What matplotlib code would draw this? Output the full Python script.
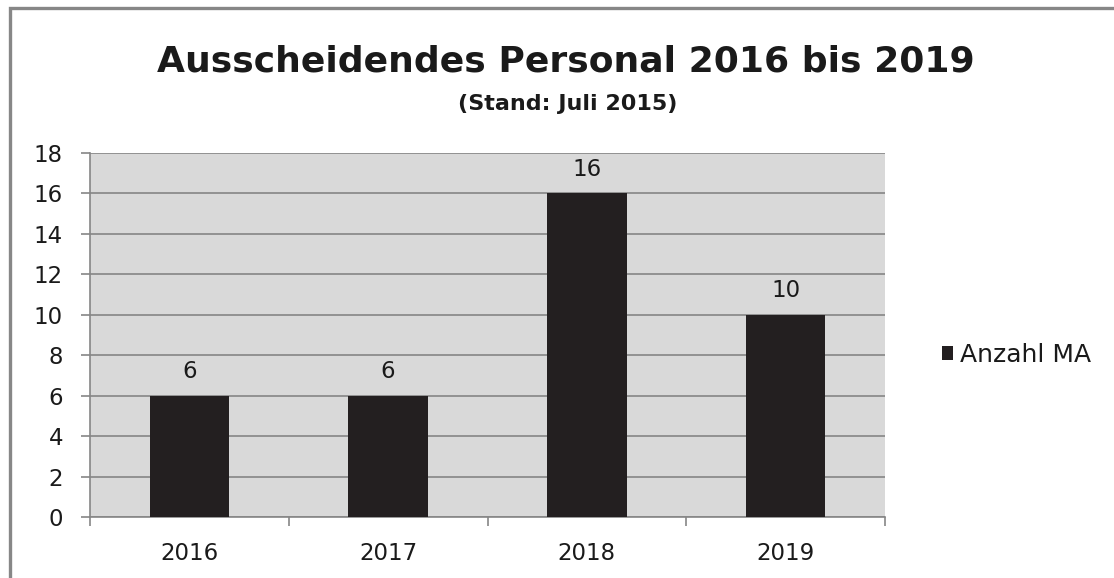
import matplotlib

matplotlib.use("Agg")
import matplotlib.pyplot as plt
from matplotlib.patches import Rectangle

years = ["2016", "2017", "2018", "2019"]
anzahl_ma = [6, 6, 16, 10]
y_ticks = [0, 2, 4, 6, 8, 10, 12, 14, 16, 18]

title = "Ausscheidendes Personal 2016 bis 2019"
subtitle = "(Stand: Juli 2015)"
series_name = "Anzahl MA"

BAR_COLOR = "#231f20"
PLOT_BG = "#d9d9d9"
GRID_COLOR = "#868686"
TEXT_COLOR = "#1a1a1a"
LABEL_SIZE = 16.5

plt.rcParams["font.family"] = ["DejaVu Sans"]

fig = plt.figure(figsize=(11.14, 5.78), dpi=100)
W, H = 1114, 578

# outer chart border (only top and left edges visible in the crop)
fig.add_artist(Rectangle((10 / W, -0.1), 1.2, 1 - 8 / H + 0.1, transform=fig.transFigure,
                         fill=False, edgecolor="#878787", linewidth=2.4))

ax = fig.add_axes([90 / W, 1 - 517 / H, (885 - 90) / W, (517 - 153) / H])
ax.set_facecolor(PLOT_BG)

x = list(range(len(years)))
bars = ax.bar(x, anzahl_ma, width=0.4, color=BAR_COLOR, label=series_name, zorder=3)
for rect, v in zip(bars, anzahl_ma):
    ax.annotate(str(v), (rect.get_x() + rect.get_width() / 2, v), xytext=(0, 9),
                textcoords="offset points", ha="center", va="bottom",
                fontsize=LABEL_SIZE, color=TEXT_COLOR)

ax.set_xlim(-0.5, len(years) - 0.5)
ax.set_ylim(0, 18)
ax.set_yticks(y_ticks)
ax.set_yticklabels([str(t) for t in y_ticks], fontsize=LABEL_SIZE, color=TEXT_COLOR)
ax.yaxis.grid(True, color=GRID_COLOR, linewidth=1.2, zorder=0)
ax.set_axisbelow(True)

ax.set_xticks(x)
ax.set_xticklabels(years, fontsize=LABEL_SIZE, color=TEXT_COLOR)
ax.tick_params(axis="x", length=0, pad=18)
ax.set_xticks([i - 0.5 for i in range(len(years) + 1)], minor=True)
ax.tick_params(axis="x", which="minor", length=6.5, color=GRID_COLOR, width=1.2)
ax.tick_params(axis="y", length=6.5, color=GRID_COLOR, width=1.2, pad=13)

for side in ("top", "right"):
    ax.spines[side].set_visible(False)
ax.spines["left"].set_color(GRID_COLOR)
ax.spines["bottom"].set_color(GRID_COLOR)
ax.spines["left"].set_linewidth(1.2)
ax.spines["bottom"].set_linewidth(1.2)

fig.text(566 / W, 1 - 62 / H, title, ha="center", va="center", fontsize=26,
         fontweight="bold", color=TEXT_COLOR)
fig.text(568 / W, 1 - 104 / H, subtitle, ha="center", va="center", fontsize=16,
         fontweight="bold", color=TEXT_COLOR)

fig.legend(loc="center left", bbox_to_anchor=(919 / W, 1 - 355 / H), frameon=False,
           fontsize=18, handlelength=0.45, handleheight=0.45, handletextpad=0.3,
           labelcolor=TEXT_COLOR)

fig.savefig("out.png", dpi=100)
